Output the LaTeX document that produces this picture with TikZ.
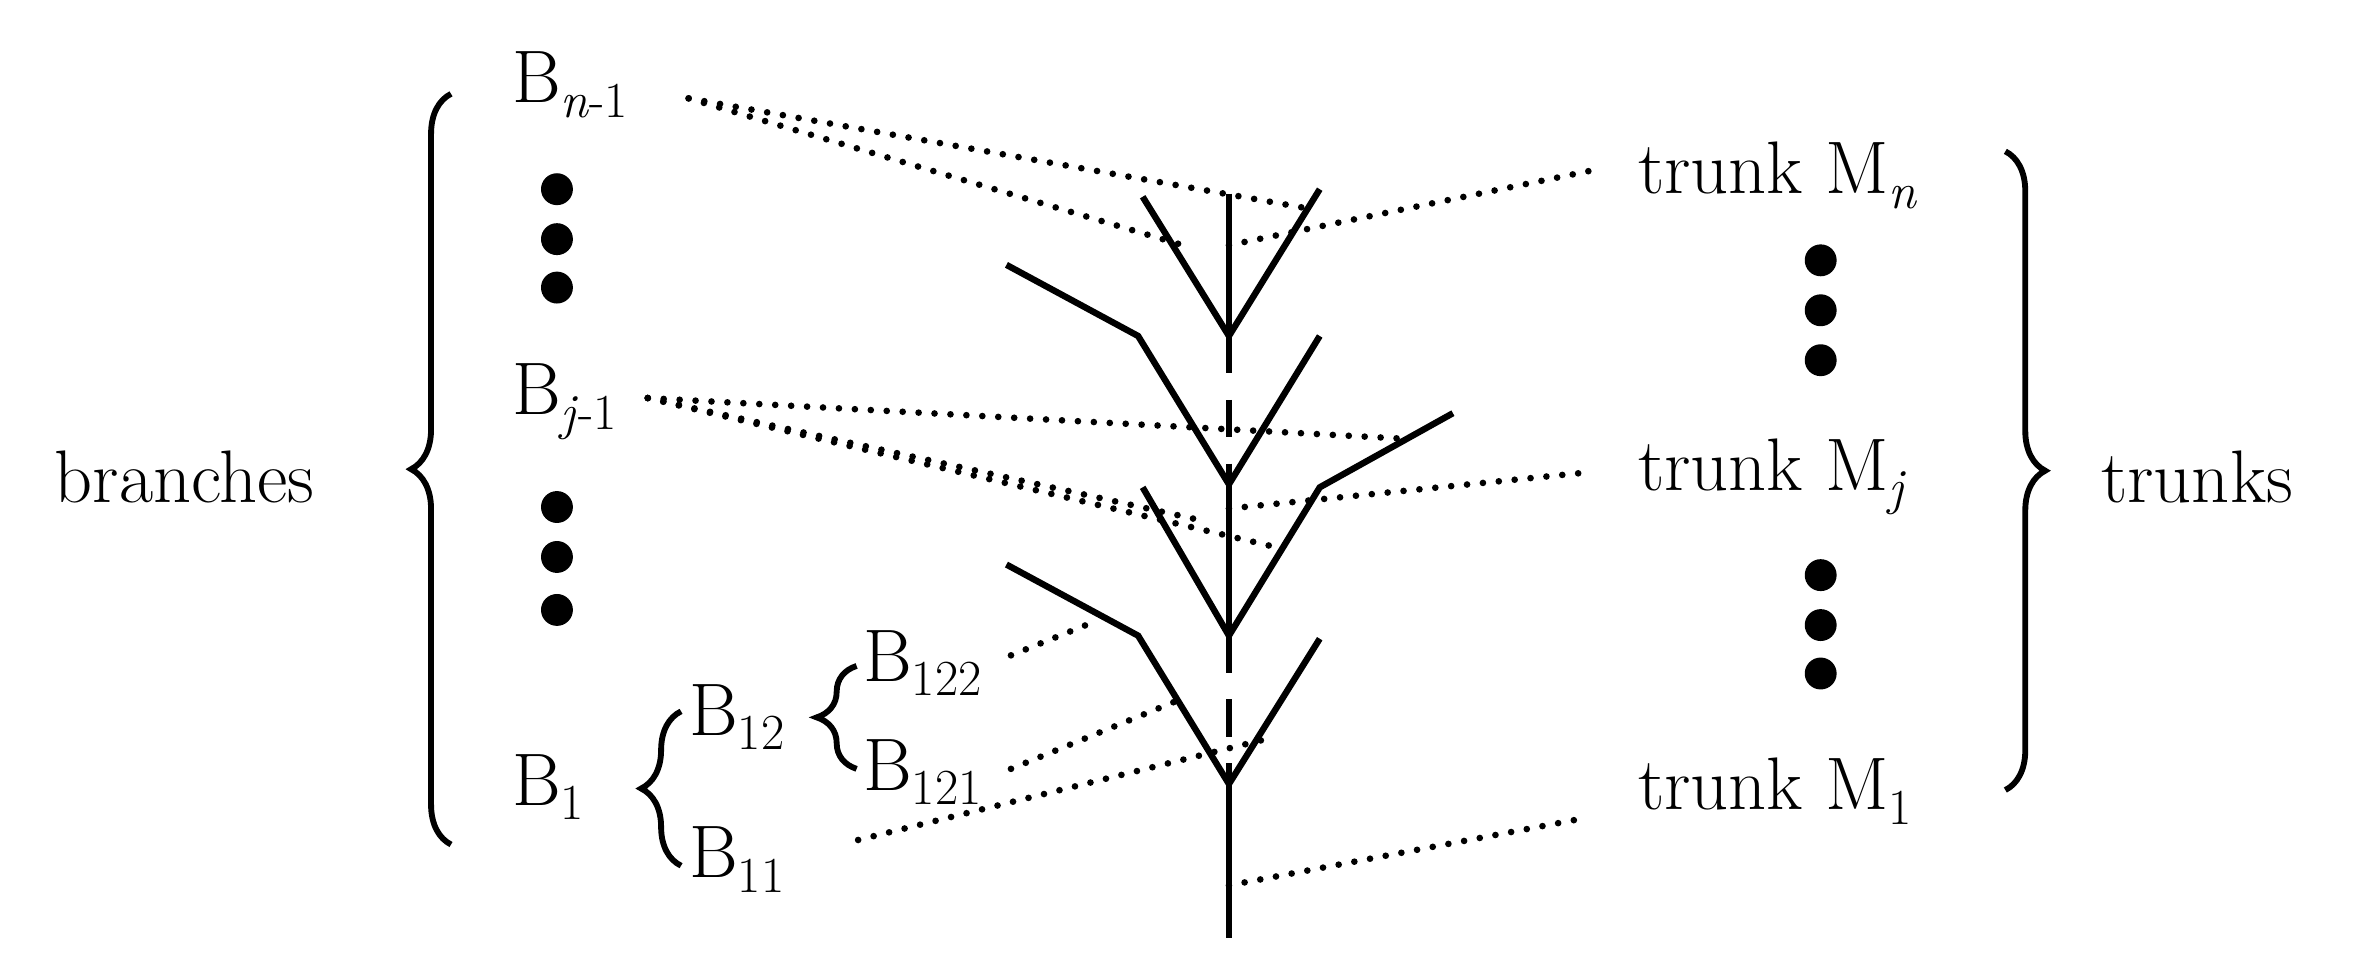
\documentclass[tikz,border=0pt]{standalone}
\usetikzlibrary{decorations.pathreplacing}
\newcommand{\mysub}[1]{\raisebox{-0.45ex}{\fontsize{19}{22}\selectfont #1}}
\begin{document}
\begin{tikzpicture}[x=0.02cm,y=-0.02cm,
  lbl/.style={font=\fontsize{28}{32}\selectfont,inner sep=0pt,anchor=base west},
  tree/.style={line width=2.4pt},
  dashtree/.style={line width=2.4pt,dash pattern=on 14pt off 10pt},
  dot/.style={line width=2.5pt,line cap=round,dash pattern=on 0pt off 6pt},
  bdot/.style={circle,fill,inner sep=0pt,minimum size=12pt},
  br/.style={line width=2.2pt,decorate,decoration={brace,amplitude=15pt}}]
\useasboundingbox (0,0) rectangle (1560,637);
% tree
\coordinate (t0) at (812,128); \coordinate (j1) at (812,222);
\coordinate (j2) at (812,320); \coordinate (j3) at (812,420);
\coordinate (j4) at (812,518); \coordinate (tb) at (812,620);
\draw[tree] (t0)--(j1); \draw[dashtree] (j1)--(j2); \draw[tree] (j2)--(j3);
\draw[dashtree] (j3)--(j4); \draw[tree] (j4)--(tb);
\draw[tree] (755,130)--(j1)--(872,125);
\draw[tree] (665,175)--(752,222)--(j2)--(872,222);
\draw[tree] (755,322)--(j3)--(872,322)--(960,273);
\draw[tree] (665,373)--(752,420)--(j4)--(872,422);
% labels left
\node[lbl,anchor=base] (br) at (122,332) {branches};
\node[lbl] (bn) at (338,68) {B\mysub{\textit{n}-1}};
\node[lbl] (bj) at (338,274) {B\mysub{\textit{j}-1}};
\node[lbl] (b1) at (338,532) {B\mysub{1}};
\node[lbl] (b12) at (455,486) {B\mysub{12}};
\node[lbl] (b11) at (455,580) {B\mysub{11}};
\node[lbl] (b122) at (570,450) {B\mysub{122}};
\node[lbl] (b121) at (570,522) {B\mysub{121}};
\foreach \y/\n in {125/a,158/b,190/c,335/d,368/e,403/f}
  \node[bdot] (l\n) at (368,\y) {};
% labels right
\node[lbl] (mn) at (1082,128) {trunk M\mysub{\textit{n}}};
\node[lbl] (mj) at (1082,324) {trunk M\mysub{\textit{j}}};
\node[lbl] (m1) at (1082,535) {trunk M\mysub{1}};
\node[lbl] (tr) at (1388,332) {trunks};
\foreach \y/\n in {172/a,205/b,238/c,380/d,413/e,445/f}
  \node[bdot] (r\n) at (1203,\y) {};
% braces
\draw[br] (298,558) -- (298,62);
\draw[br] (450,572) -- (450,470);
\draw[br] (566,508) -- (566,440);
\draw[br] (1325,100) -- (1325,522);
% dotted
\coordinate (bnE) at (455,65); \coordinate (bjE) at (428,263);
\draw[dot] (bnE)--(860,137); \draw[dot] (bnE)--(785,163);
\draw[dot] (812,162)--(1050,113);
\draw[dot] (bjE)--(930,290); \draw[dot] (bjE)--(790,343); \draw[dot] (bjE)--(845,362);
\draw[dot] (812,336)--(1050,312);
\draw[dot] (668,433)--(725,410);
\draw[dot] (668,508)--(785,460);
\draw[dot] (567,555)--(838,488);
\draw[dot] (812,585)--(1050,540);
\end{tikzpicture}
\end{document}
